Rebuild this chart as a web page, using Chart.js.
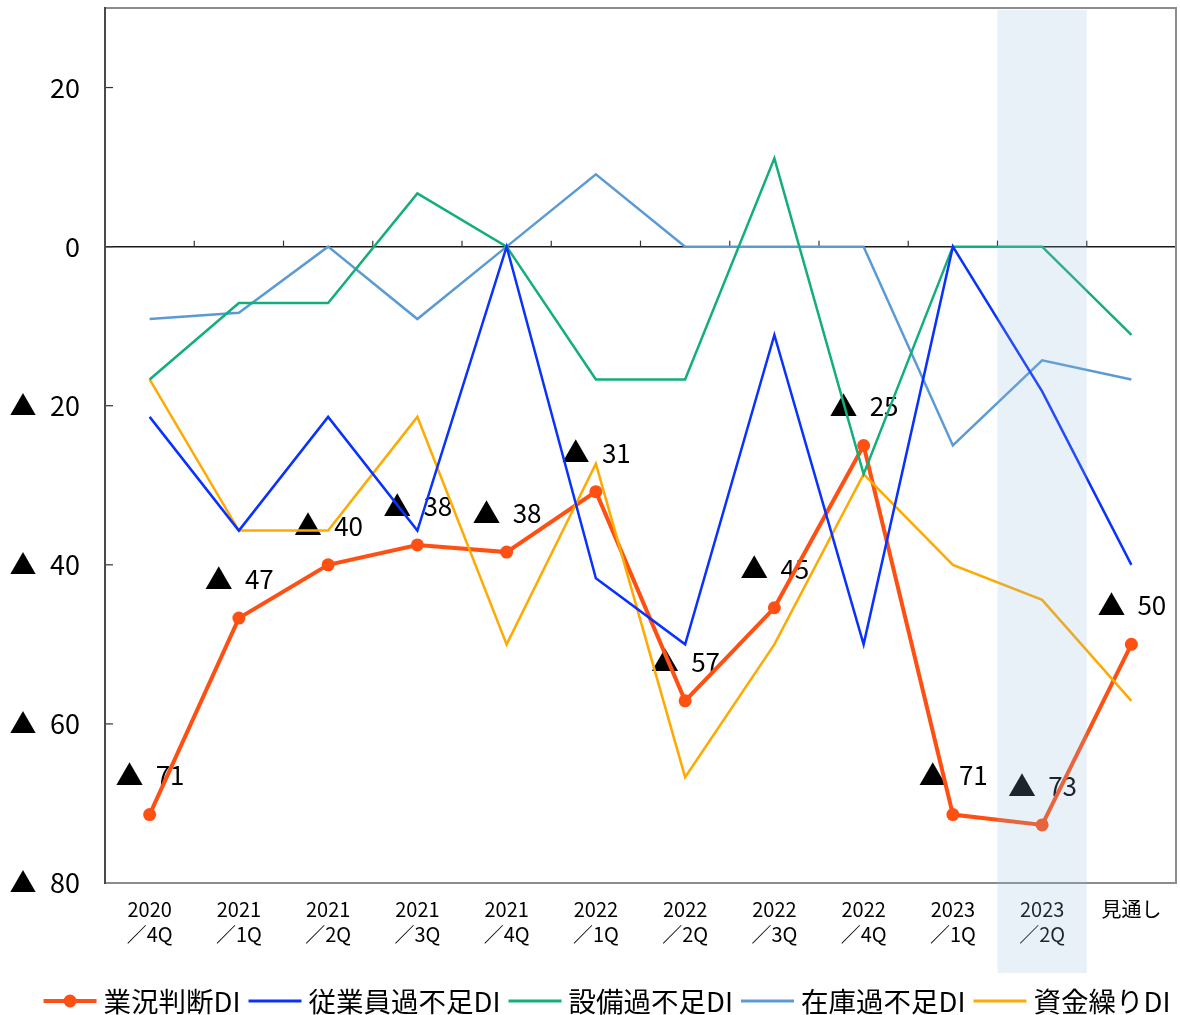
<!DOCTYPE html>
<html><head><meta charset="utf-8">
<script src="https://cdn.jsdelivr.net/npm/chart.js@4.4.0/dist/chart.umd.min.js"></script>
<style>html,body{margin:0;padding:0;background:#fff;overflow:hidden;}#wrap{width:1180px;height:1015px;}canvas{display:block;}</style>
</head><body><div id="wrap"><canvas id="c" width="1180" height="1015"></canvas></div>
<script>
const categories = [['2020','／4Q'],['2021','／1Q'],['2021','／2Q'],['2021','／3Q'],['2021','／4Q'],['2022','／1Q'],['2022','／2Q'],['2022','／3Q'],['2022','／4Q'],['2023','／1Q'],['2023','／2Q'],'見通し'];
const gyokyo  = [-71.4, -46.7, -40.0, -37.5, -38.4, -30.8, -57.1, -45.4, -25.0, -71.4, -72.7, -50.0];
const jugyoin = [-21.4, -35.7, -21.4, -35.7, 0, -41.7, -50.0, -11.1, -50.0, 0, -18.2, -40.0];
const setsubi = [-16.7, -7.1, -7.1, 6.7, 0, -16.7, -16.7, 11.1, -28.6, 0, 0, -11.1];
const zaiko   = [-9.1, -8.3, 0, -9.1, 0, 9.1, 0, 0, 0, -25.0, -14.3, -16.7];
const shikin  = [-16.7, -35.7, -35.7, -21.4, -50.0, -27.3, -66.7, -50.0, -28.6, -40.0, -44.4, -57.1];
const seriesNames = ['業況判断DI','従業員過不足DI','設備過不足DI','在庫過不足DI','資金繰りDI'];
const yTickValues = [-80, -60, -40, -20, 0, 20];
const highlightIndex = 10;

const FONT = "'Noto Sans CJK JP', 'Noto Sans', sans-serif";

const decor = {
  id: 'decor',
  beforeDatasetsDraw(chart) {
    const {ctx, chartArea: a, scales: {x, y}} = chart;
    ctx.save();
    const ln = (x1, y1, x2, y2) => { ctx.beginPath(); ctx.moveTo(x1, y1); ctx.lineTo(x2, y2); ctx.stroke(); };
    const y0 = y.getPixelForValue(0);
    ctx.strokeStyle = '#1a1a1a'; ctx.lineWidth = 1.5;
    ln(a.left, y0, a.right, y0);
    const step = x.getPixelForValue(1) - x.getPixelForValue(0);
    ctx.lineWidth = 1.2; ctx.strokeStyle = '#333';
    for (let i = 0; i < categories.length; i++) {
      const bx = x.getPixelForValue(i) + step / 2;
      ln(bx, y0, bx, y0 - 6);
    }
    yTickValues.forEach(v => { const py = y.getPixelForValue(v); ln(a.left, py, a.left + 8, py); });
    ctx.strokeStyle = '#8c8c8c'; ctx.lineWidth = 2;
    ctx.strokeRect(a.left, a.top, a.right - a.left, a.bottom - a.top);
    ctx.strokeStyle = '#4a4a4a';
    ln(a.left, a.top - 1, a.left, a.bottom + 1);
    // data labels for 業況判断DI
    const meta = chart.getDatasetMeta(0);
    ctx.fillStyle = '#000'; ctx.textBaseline = 'middle';
    meta.data.forEach((p, i) => {
      const v = gyokyo[i];
      const ly = p.y - 39;
      if (v < 0) {
        ctx.font = '28px ' + FONT; ctx.textAlign = 'center';
        ctx.fillText('▲', p.x - 20, ly);
      }
      ctx.font = '26px ' + FONT; ctx.textAlign = 'left';
      ctx.fillText(String(Math.round(Math.abs(v))), p.x + 6, ly);
    });
    ctx.restore();
  },
  afterDraw(chart) {
    const {ctx, chartArea: a, scales: {x}} = chart;
    ctx.save();
    const step = x.getPixelForValue(1) - x.getPixelForValue(0);
    const cx = x.getPixelForValue(highlightIndex);
    ctx.fillStyle = 'rgba(140,180,220,0.2)';
    ctx.fillRect(cx - step / 2, a.top + 2, step, 973 - a.top - 2);
    // legend
    ctx.font = '27.5px ' + FONT; ctx.textBaseline = 'middle'; ctx.textAlign = 'left';
    const ds = chart.data.datasets;
    const symW = 53, gap1 = 7, gap2 = 8;
    const widths = ds.map(d => ctx.measureText(d.label).width);
    let total = 0;
    widths.forEach(w => total += symW + gap1 + w);
    total += gap2 * (ds.length - 1);
    let lx = 607 - total / 2;
    const ly = 1001;
    ds.forEach((d, i) => {
      ctx.strokeStyle = d.borderColor; ctx.lineWidth = i === 0 ? 4 : 3;
      ctx.beginPath(); ctx.moveTo(lx, ly); ctx.lineTo(lx + symW, ly); ctx.stroke();
      if (i === 0) { ctx.fillStyle = d.borderColor; ctx.beginPath(); ctx.arc(lx + symW / 2, ly, 6.5, 0, Math.PI * 2); ctx.fill(); }
      ctx.fillStyle = '#000';
      ctx.fillText(d.label, lx + symW + gap1, ly + 1);
      lx += symW + gap1 + widths[i] + gap2;
    });
    ctx.restore();
  }
};

new Chart(document.getElementById('c'), {
  type: 'line',
  data: {
    labels: categories,
    datasets: [
      {label: seriesNames[0], data: gyokyo, borderColor: '#FF5014', backgroundColor: '#FF5014', borderWidth: 4, pointRadius: 6.5, pointBackgroundColor: '#FF5014', pointBorderWidth: 0, order: 5},
      {label: seriesNames[1], data: jugyoin, borderColor: '#0A32FF', borderWidth: 2.5, pointRadius: 0, order: 1},
      {label: seriesNames[2], data: setsubi, borderColor: '#12AE7C', borderWidth: 2.5, pointRadius: 0, order: 2},
      {label: seriesNames[3], data: zaiko, borderColor: '#5B9BD5', borderWidth: 2.5, pointRadius: 0, order: 3},
      {label: seriesNames[4], data: shikin, borderColor: '#FFAA00', borderWidth: 2.5, pointRadius: 0, order: 4}
    ]
  },
  options: {
    responsive: false, animation: false,
    layout: {autoPadding: false, padding: {top: 8, right: 4, left: 0, bottom: 0}},
    elements: {line: {tension: 0}},
    plugins: {legend: {display: false}, tooltip: {enabled: false}},
    scales: {
      x: {
        offset: true,
        grid: {display: false, drawTicks: false}, border: {display: false},
        ticks: {autoSkip: false, maxRotation: 0, padding: 14, color: '#000', font: {family: FONT, size: 20, lineHeight: 1.25}},
        afterFit: s => { s.height = 132; s.paddingLeft = 0; s.paddingRight = 0; }
      },
      y: {
        min: -80, max: 30,
        afterBuildTicks: s => { s.ticks = yTickValues.map(v => ({value: v})); },
        afterFit: s => { s.width = 105; s.paddingTop = 0; s.paddingBottom = 0; },
        grid: {display: false, drawTicks: false}, border: {display: false},
        ticks: {padding: 25, color: '#000', font: {family: FONT, size: 27},
          callback: v => v < 0 ? '▲\u2002' + (-v) : String(v)}
      }
    }
  },
  plugins: [decor]
});
</script></body></html>
